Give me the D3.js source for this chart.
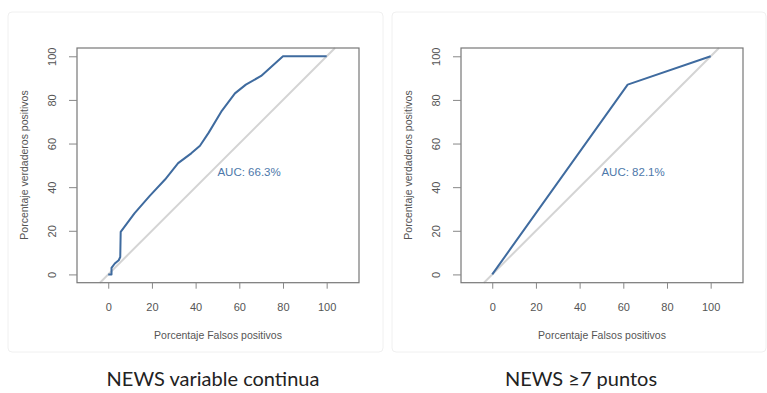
<script src="https://d3js.org/d3.v7.min.js"></script>
<style>
  body { margin: 0; background: #fff; }
  svg text { font-family: "Liberation Sans", Arial, sans-serif; }
  svg text.caption { font-family: Lato, "Open Sans", sans-serif; }
</style>
<div id="chart"></div>
<script>
var width = 767, height = 393;

// ROC curves, percent false positives (x) vs percent true positives (y)
var fprContinua = [0, 1.5, 1.5, 3, 4.8, 5.5, 5.7, 12, 19, 26, 32, 38, 42, 46, 52, 58, 63, 70, 80, 100];
var tprContinua = [0, 0, 3, 5, 6.5, 8, 19.5, 28, 36, 43.5, 51, 55.5, 59, 65, 75, 83, 87, 91, 100, 100];
var fprPuntos = [0, 62, 100];
var tprPuntos = [0, 87, 100];
var aucLabels = ["AUC: 66.3%", "AUC: 82.1%"];
var titles = ["NEWS variable continua", "NEWS \u22657 puntos"];
var tickValues = [0, 20, 40, 60, 80, 100];

var svg = d3.select("#chart")
  .append("svg")
  .attr("width", width)
  .attr("height", height);

var panels = [
  {dx: 0, fpr: fprContinua, tpr: tprContinua, auc: aucLabels[0], title: titles[0], frame: [8, 383], cx: 213},
  {dx: 384, fpr: fprPuntos, tpr: tprPuntos, auc: aucLabels[1], title: titles[1], frame: [392, 766], cx: 197}
];

panels.forEach(function(p) {
  // faint frame around each picture
  svg.append("rect")
    .attr("x", p.frame[0]).attr("y", 12)
    .attr("width", p.frame[1] - p.frame[0]).attr("height", 340)
    .attr("rx", 4)
    .attr("fill", "none")
    .attr("stroke", "#f0f0f0");

  var g = svg.append("g").attr("transform", "translate(" + p.dx + ",0)");

  var x = d3.scaleLinear().domain([-14.3, 114.8]).range([77, 359]);
  var y = d3.scaleLinear().domain([-3.8, 103.8]).range([282.7, 48]);

  // diagonal reference
  g.append("line")
    .attr("x1", x(-3.8)).attr("y1", y(-3.8))
    .attr("x2", x(103.8)).attr("y2", y(103.8))
    .attr("stroke", "#d4d4d4")
    .attr("stroke-width", 2);

  // ROC curve
  var pts = p.fpr.map(function(d, i) { return [d, p.tpr[i]]; });
  g.append("path")
    .datum(pts)
    .attr("fill", "none")
    .attr("stroke", "#3f6b9f")
    .attr("stroke-width", 2)
    .attr("stroke-linejoin", "round")
    .attr("d", d3.line().x(function(d) { return x(d[0]); }).y(function(d) { return y(d[1]); }));

  // box
  g.append("rect")
    .attr("x", 77).attr("y", 48)
    .attr("width", 282).attr("height", 234.7)
    .attr("fill", "none")
    .attr("stroke", "#777")
    .attr("stroke-width", 1.2);

  // x axis
  var xa = g.append("g").attr("transform", "translate(0,282.7)")
    .call(d3.axisBottom(x).tickValues(tickValues).tickSize(6).tickPadding(15));
  xa.select(".domain").remove();
  xa.selectAll("line").attr("stroke", "#888");
  xa.selectAll("text").attr("fill", "#555").attr("font-size", 11);

  // y axis
  var ya = g.append("g").attr("transform", "translate(77,0)")
    .call(d3.axisLeft(y).tickValues(tickValues).tickSize(8));
  ya.select(".domain").remove();
  ya.selectAll("line").attr("stroke", "#888");
  ya.selectAll("text")
    .attr("fill", "#555").attr("font-size", 11)
    .attr("x", 0)
    .attr("text-anchor", "middle")
    .attr("transform", "translate(-25,0) rotate(-90)")
    .attr("dy", "0.35em");

  // axis titles
  g.append("text")
    .attr("x", 218).attr("y", 339)
    .attr("text-anchor", "middle")
    .attr("font-size", 10.5).attr("fill", "#555")
    .text("Porcentaje Falsos positivos");
  g.append("text")
    .attr("transform", "translate(28,165) rotate(-90)")
    .attr("text-anchor", "middle")
    .attr("font-size", 10.5).attr("fill", "#555")
    .text("Porcentaje verdaderos positivos");

  // AUC label
  g.append("text")
    .attr("x", x(50)).attr("y", y(50))
    .attr("dy", "0.9em")
    .attr("font-size", 11.5).attr("fill", "#4d78aa")
    .text(p.auc);

  // caption under each picture
  g.append("text")
    .attr("class", "caption")
    .attr("x", p.cx).attr("y", 386)
    .attr("text-anchor", "middle")
    .attr("font-size", 20).attr("fill", "#222")
    .text(p.title);
});
</script>
